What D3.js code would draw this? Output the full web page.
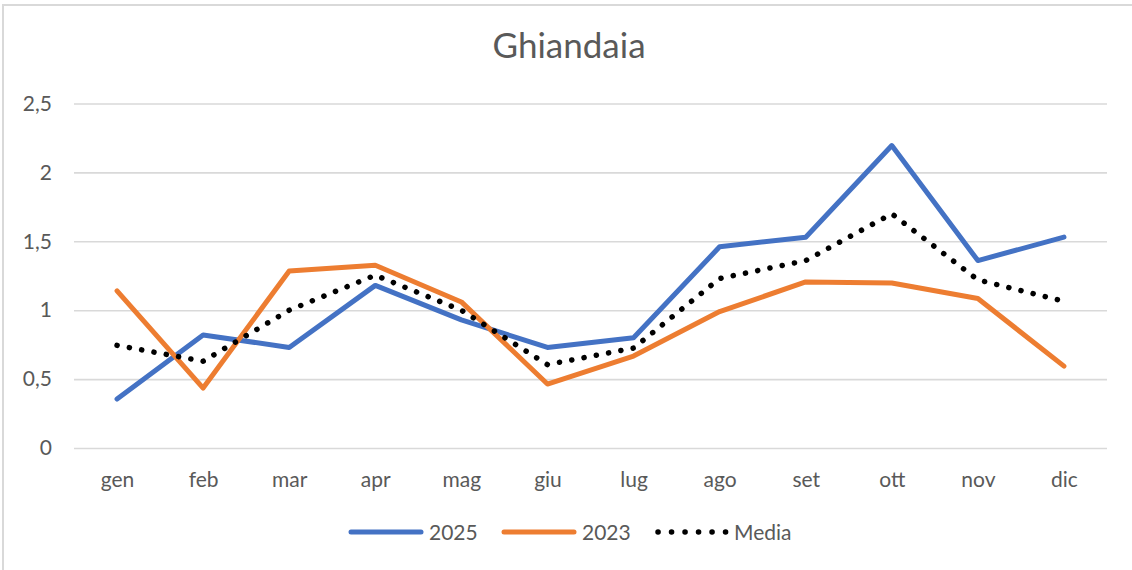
<!DOCTYPE html>
<html>
<head>
<meta charset="utf-8">
<script src="https://cdn.jsdelivr.net/npm/d3@7"></script>
<style>
  body { margin: 0; background: #fff; }
  svg text { font-family: Lato, "Open Sans", sans-serif; fill: #595959; }
</style>
</head>
<body>
<svg id="chart" width="1132" height="570"></svg>
<script>
// data
var months = ["gen", "feb", "mar", "apr", "mag", "giu", "lug", "ago", "set", "ott", "nov", "dic"];
var y2025 = [0.355, 0.82, 0.73, 1.18, 0.93, 0.73, 0.80, 1.46, 1.53, 2.195, 1.36, 1.53];
var y2023 = [1.14, 0.435, 1.285, 1.326, 1.06, 0.464, 0.667, 0.99, 1.205, 1.198, 1.085, 0.594];
var media = [0.745, 0.63, 1.0, 1.254, 1.0, 0.605, 0.725, 1.23, 1.36, 1.70, 1.22, 1.065];
var yTicks = [0, 0.5, 1, 1.5, 2, 2.5];

var series = [
    {name: "2025", values: y2025, color: "#4472C4", dash: null},
    {name: "2023", values: y2023, color: "#ED7D31", dash: null},
    {name: "Media", values: media, color: "#000000", dash: "0.1 12.4"}
];

var svg = d3.select("#chart");

// chart frame
svg.append("rect")
    .attr("x", 3).attr("y", 5)
    .attr("width", 1140).attr("height", 580)
    .attr("fill", "none")
    .attr("stroke", "#d9d9d9")
    .attr("stroke-width", 2);

var x = d3.scalePoint()
    .domain(months)
    .range([74, 1107])
    .padding(0.5);

var y = d3.scaleLinear()
    .domain([0, 2.5])
    .range([448, 103.5]);

// title
svg.append("text")
    .attr("x", 569).attr("y", 58)
    .attr("text-anchor", "middle")
    .style("font-size", "35px")
    .text("Ghiandaia");

// gridlines + y labels
var yAxis = d3.axisLeft(y)
    .tickValues(yTicks)
    .tickSize(-(1107 - 74))
    .tickPadding(22)
    .tickFormat(d => String(d).replace(".", ","));

svg.append("g")
    .attr("transform", "translate(74,0)")
    .call(yAxis)
    .call(g => g.select(".domain").remove())
    .call(g => g.selectAll(".tick line").attr("stroke", "#d9d9d9").attr("stroke-width", 1.6))
    .call(g => g.selectAll(".tick text")
        .style("font-size", "21px")
        .attr("fill", "#595959"));

// x labels
svg.append("g")
    .attr("transform", "translate(0,448)")
    .call(d3.axisBottom(x).tickSize(0).tickPadding(24))
    .call(g => g.select(".domain").remove())
    .call(g => g.selectAll(".tick text")
        .style("font-size", "21px")
        .attr("fill", "#595959"));

var line = d3.line()
    .x((d, i) => x(months[i]))
    .y(d => y(d));

series.forEach(function(s) {
    svg.append("path")
        .datum(s.values)
        .attr("d", line)
        .attr("fill", "none")
        .attr("stroke", s.color)
        .attr("stroke-width", s.dash ? 5.5 : 5)
        .attr("stroke-linejoin", "round")
        .attr("stroke-linecap", "round")
        .attr("stroke-dasharray", s.dash);
});

// legend
var legendPos = [351, 504, 658];
var legend = svg.append("g");
series.forEach(function(s, i) {
    var lx = legendPos[i];
    legend.append("line")
        .attr("x1", lx).attr("x2", lx + 70)
        .attr("y1", 532).attr("y2", 532)
        .attr("stroke", s.color)
        .attr("stroke-width", s.dash ? 5.5 : 5)
        .attr("stroke-linecap", "round")
        .attr("stroke-dasharray", s.dash ? "0.1 13.4" : null);
    legend.append("text")
        .attr("x", lx + (s.dash ? 76 : 78))
        .attr("y", 540)
        .style("font-size", "21px")
        .text(s.name);
});
</script>
</body>
</html>
